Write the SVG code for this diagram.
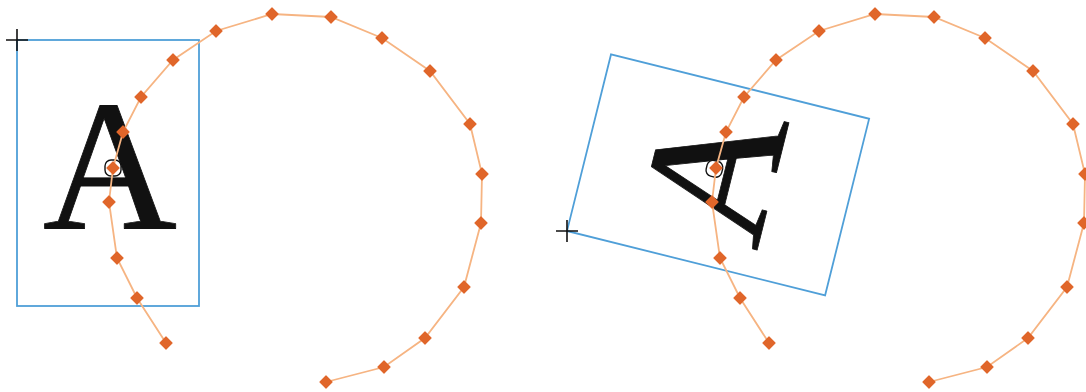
<svg xmlns="http://www.w3.org/2000/svg" xmlns:xlink="http://www.w3.org/1999/xlink" width="1086" height="392" viewBox="0 0 1086 392">
<style>
.frame{fill:none;stroke:#4f9fd8;stroke-width:1.8}
.glyph{font-family:"Liberation Serif","Times New Roman",serif;font-size:186px;fill:#111;stroke:#111;stroke-width:0.8;stroke-linejoin:round}
.anchor{fill:#fff;stroke:#111;stroke-width:1.4}
.path{fill:none;stroke:#f6b482;stroke-width:1.8;marker-start:url(#dia);marker-mid:url(#dia);marker-end:url(#dia)}
.cross{stroke:#111;stroke-width:1.6}
</style>
<defs>
<marker id="dia" markerUnits="userSpaceOnUse" markerWidth="16" markerHeight="16" refX="8" refY="8" orient="0">
<path d="M8 2 L14 8 L8 14 L2 8 Z" fill="#e0662a" stroke="#e0662a" stroke-width="1.2" stroke-linejoin="round"/>
</marker>
<g id="frameGlyph">
<rect class="frame" x="17" y="40" width="182" height="266"/>
<text class="glyph" x="110" y="229" text-anchor="middle">A</text>
<rect class="anchor" x="105" y="160" width="16" height="16" rx="6"/>
</g>
</defs>
<g id="left-panel">
<use xlink:href="#frameGlyph"/>
<path class="cross" d="M6 40 H28 M17 29 V51"/>
</g>
<g id="right-panel">
<use xlink:href="#frameGlyph" transform="translate(567,231) rotate(-76) translate(-17,-40)"/>
<path class="cross" d="M556 231 H578 M567 220 V242"/>
</g>
<g id="connectors">
<polyline class="path" points="166,343 137,298 117,258 109,202 113,168 123,132 141,97 173,60 216,31 272,14 331,17 382,38 430,71 470,124 482,174 481,223 464,287 425,338 384,367 326,382"/>
<polyline class="path" transform="translate(603,0)" points="166,343 137,298 117,258 109,202 113,168 123,132 141,97 173,60 216,31 272,14 331,17 382,38 430,71 470,124 482,174 481,223 464,287 425,338 384,367 326,382"/>
</g>
</svg>
